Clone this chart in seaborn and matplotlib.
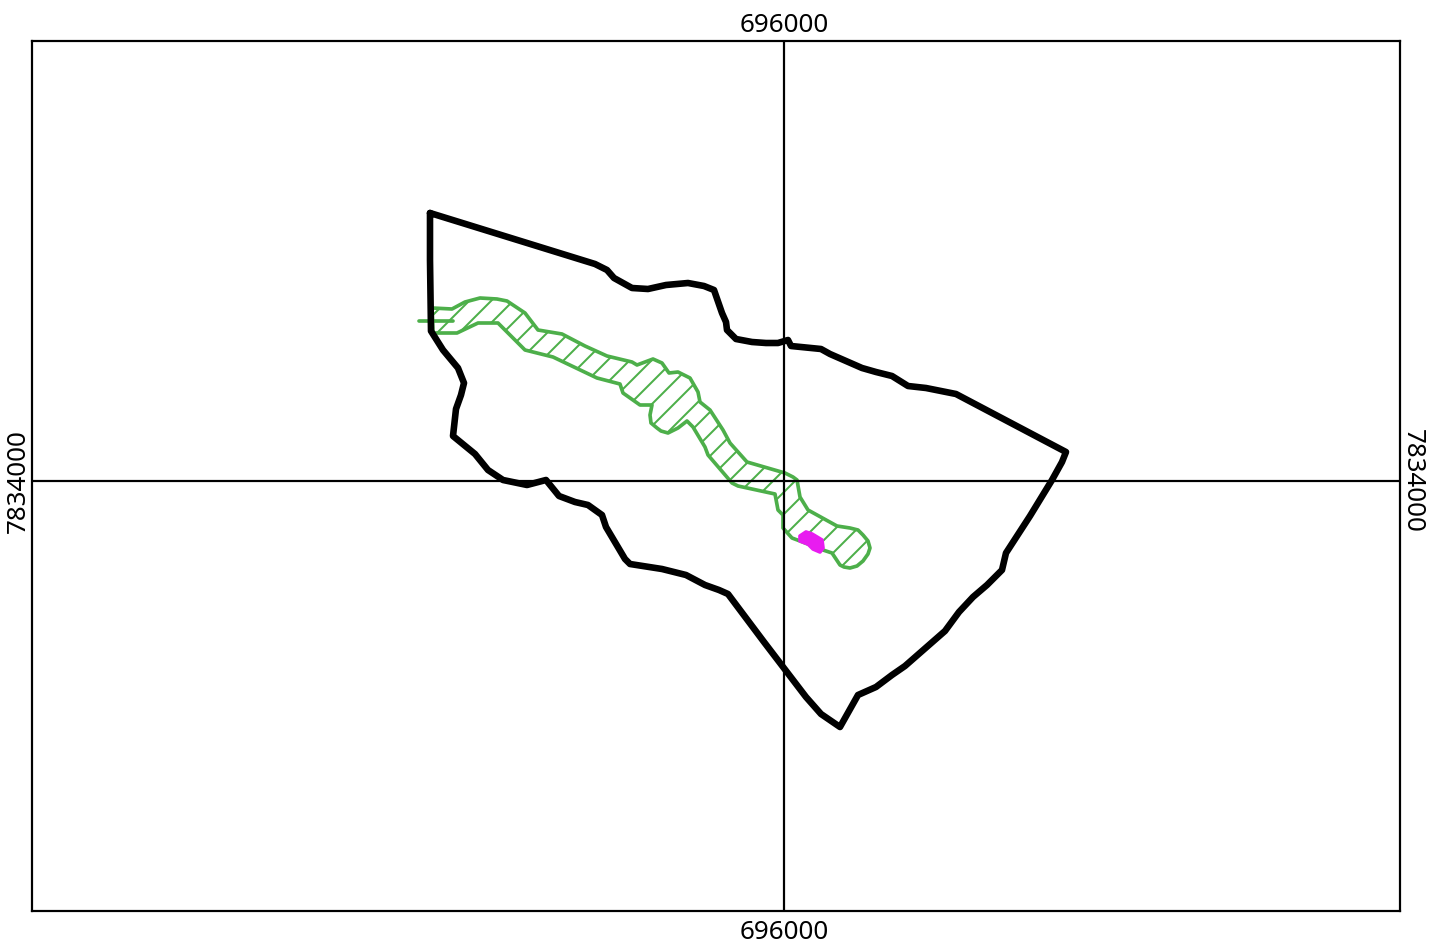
import seaborn as sns
import matplotlib.pyplot as plt

# map origin and frame (metres)
east_tick = 696000
north_tick = 7834000
x_range = [695248, 696616]
y_range = [7833570, 7834440]

# catchment boundary, metres from the tick lines
boundary_e = [-354, -189, -177, -170, -152, -136, -118, -96, -80, -70, -62, -58, -57, -48, -32, -18, -6, 4, 7, 37,
              46, 62, 78, 92, 108, 124, 142, 172, 282, 278, 268, 246, 222, 218, 203, 189, 175, 161, 121, 108,
              92, 74, 56, 37, 22, -20, -56, -65, -79, -98, -122, -154, -159, -178, -182, -196, -209, -225, -238, -257,
              -281, -296, -309, -331, -328, -323, -320, -326, -341, -353, -354, -354]
boundary_n = [268, 217, 211, 203, 193, 192, 196, 198, 195, 191, 168, 159, 151, 142, 139, 138, 138, 141, 135, 132,
              127, 120, 113, 109, 105, 95, 93, 87, 29, 19, 1, -35, -72, -89, -104, -116, -131, -150, -185, -194,
              -206, -214, -246, -233, -216, -161, -113, -109, -104, -94, -88, -83, -78, -46, -34, -24, -21, -15, 1, -4,
              1, 11, 27, 45, 72, 86, 98, 113, 131, 150, 221, 268]

# riparian strip
strip_e = [-352, -332, -319, -304, -287, -277, -259, -246, -222, -199, -177, -152, -147, -131, -122, -115, -106, -94,
           -86, -84, -74, -61, -54, -37, 1, 9, 13, 16, 24, 53, 66, 74, 79, 84, 86, 84, 79, 73, 66, 60, 56, 48, 39, 16, 8,
           -1, -1, -6, -9, -46, -52, -76, -79, -91, -97, -106, -116, -123, -127, -133, -134, -132, -144, -161, -164,
           -187, -231, -259, -286, -306, -327, -351, -352]
strip_n = [173, 172, 179, 183, 182, 180, 168, 151, 147, 135, 125, 119, 116, 122, 118, 108, 109, 103,
           89, 79, 71, 51, 38, 19, 8, 4, 1, -16, -29, -45, -47, -49, -54, -60, -67, -73, -80, -85, -87, -86, -84, -72,
           -69, -60, -57, -47, -34, -29, -13, -5, -2, 26, 34, 54, 60, 53, 48, 50, 53, 58, 66, 76, 76, 88, 97,
           103, 124, 131, 158, 158, 148, 148, 173]

# short stub crossing the boundary
stub_e = [-365, -331]
stub_n = [160, 160]

# small magenta patch
patch_e = [16, 22, 28, 38, 39, 36, 29, 24, 16]
patch_n = [-55, -51, -53, -59, -67, -71, -68, -63, -60]


def shift(values, origin):
    return [v + origin for v in values]


sns.set_style("white")
plt.rcParams['font.family'] = ['Noto Sans', 'DejaVu Sans']
plt.rcParams['hatch.linewidth'] = 1.1

fig = plt.figure(figsize=(1431 / 132, 947 / 132), dpi=132)
ax = fig.add_axes([32 / 1431, 1 - 911 / 947, 1368 / 1431, 870 / 947])

green = "#4daf4a"

# hatched strip
ax.fill(shift(strip_e, east_tick), shift(strip_n, north_tick), facecolor="none", edgecolor=green,
        hatch="//", linewidth=2.0, joinstyle="round")
sns.lineplot(x=shift(stub_e, east_tick), y=shift(stub_n, north_tick), color=green, linewidth=2.0,
             sort=False, estimator=None, ax=ax)

# boundary
line = sns.lineplot(x=shift(boundary_e, east_tick), y=shift(boundary_n, north_tick), color="black", linewidth=3.6,
                    sort=False, estimator=None, ax=ax)
line.lines[-1].set_solid_joinstyle("round")

ax.fill(shift(patch_e, east_tick), shift(patch_n, north_tick), facecolor="#e81cf0", edgecolor="#e81cf0",
        linewidth=2, joinstyle="round")

# graticule
ax.axvline(east_tick, color="black", linewidth=1.2, zorder=1)
ax.axhline(north_tick, color="black", linewidth=1.2, zorder=1)

ax.set_xlim(x_range)
ax.set_ylim(y_range)
ax.set_xticks([])
ax.set_yticks([])

# labels sit at the ends of the graticule lines
label_style = dict(fontsize=14.2, color="black", ha="center", va="center", annotation_clip=False)
ax.annotate(str(east_tick), xy=(east_tick, y_range[1]), xytext=(0, 8.2), textcoords="offset points", **label_style)
ax.annotate(str(east_tick), xy=(east_tick, y_range[0]), xytext=(0, -11.5), textcoords="offset points", **label_style)
ax.annotate(str(north_tick), xy=(x_range[0], north_tick), xytext=(-7.6, 0), textcoords="offset points",
            rotation=90, **label_style)
ax.annotate(str(north_tick), xy=(x_range[1], north_tick), xytext=(6.5, 0), textcoords="offset points",
            rotation=-90, **label_style)

for spine in ax.spines.values():
    spine.set_color("black")
    spine.set_linewidth(1.2)

ax.set_xlabel("")
ax.set_ylabel("")

plt.savefig("out.png", dpi=132)
